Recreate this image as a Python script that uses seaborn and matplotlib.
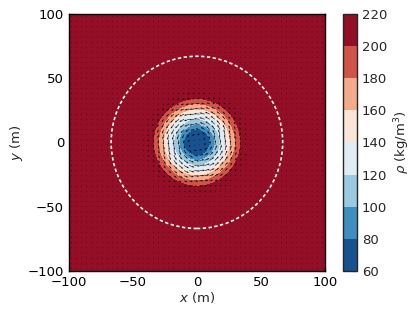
import numpy as np
import matplotlib
matplotlib.use('Agg')
from matplotlib import pyplot as plt
from matplotlib.patches import Circle
import seaborn as sns

# radial density profile (r in m, rho in kg/m^3)
r_rho = [0, 5, 10.4, 14, 18, 23, 26, 30, 34, 40, 60, 150]
rho_vals = [66, 70, 80, 100, 120, 140, 160, 180, 200, 210, 214, 215]

# tangential speed profile (m/s), drives the arrows
r_vel = [0, 5, 10, 15, 20, 25, 30, 35, 40, 45, 55, 150]
v_vals = [0, 2.5, 5, 6.5, 7, 6.5, 5, 3.2, 1.8, 0.8, 0.2, 0.0]

levels = [60, 80, 100, 120, 140, 160, 180, 200, 220]
ticks = [-100, -50, 0, 50, 100]
circle_r = 67

sns.set_style('ticks')
plt.rcParams['font.family'] = ['DejaVu Sans']
plt.rcParams['mathtext.fontset'] = 'dejavusans'
plt.rcParams['xtick.direction'] = 'in'
plt.rcParams['ytick.direction'] = 'in'
plt.rcParams['xtick.top'] = True
plt.rcParams['ytick.right'] = True

# field on a fine grid
xf = np.linspace(-100, 100, 401)
X, Y = np.meshgrid(xf, xf)
R = np.hypot(X, Y)
rho = np.interp(R, r_rho, rho_vals)

# arrows on a coarse grid
xq = np.arange(-98, 100, 4)
XQ, YQ = np.meshgrid(xq, xq)
RQ = np.hypot(XQ, YQ)
vt = np.interp(RQ, r_vel, v_vals)
with np.errstate(invalid='ignore', divide='ignore'):
    U = np.where(RQ > 0, -vt * YQ / RQ, 0)
    V = np.where(RQ > 0, vt * XQ / RQ, 0)

fig = plt.figure(figsize=(4.15, 3.15), dpi=100)
ax = fig.add_axes([0.166, 0.14, 0.617, 0.816])
cax = fig.add_axes([0.827, 0.14, 0.033, 0.816])

cmap = sns.color_palette('RdBu_r', as_cmap=True)
cf = ax.contourf(X, Y, rho, levels=levels, cmap=cmap)
ax.quiver(XQ, YQ, U, V, angles='xy', scale_units='xy', scale=1.6,
          width=0.0022, headwidth=3, headlength=4, headaxislength=3.5,
          color='k', minlength=1.2)
ax.add_patch(Circle((0, 0), circle_r, fill=False, ec='white', lw=1.2,
                    ls=(0, (2, 1.5))))

ax.set_xlim(-100, 100)
ax.set_ylim(-100, 100)
ax.set_xticks(ticks)
ax.set_yticks(ticks)
ax.tick_params(labelsize=9.5, length=4, width=0.8, colors='black')
ax.set_xlabel('$x$ (m)', fontsize=9.5, labelpad=1)
ax.set_ylabel('$y$ (m)', fontsize=9.5, labelpad=2)
for s in ax.spines.values():
    s.set_color('black')
    s.set_linewidth(1)

cb = fig.colorbar(cf, cax=cax, ticks=levels)
cb.ax.tick_params(labelsize=9.5, length=4, direction='in')
cb.set_label(r'$\rho$ (kg/m$^3$)', fontsize=9.5)
cb.outline.set_linewidth(1)

fig.savefig('out.png', dpi=100)
